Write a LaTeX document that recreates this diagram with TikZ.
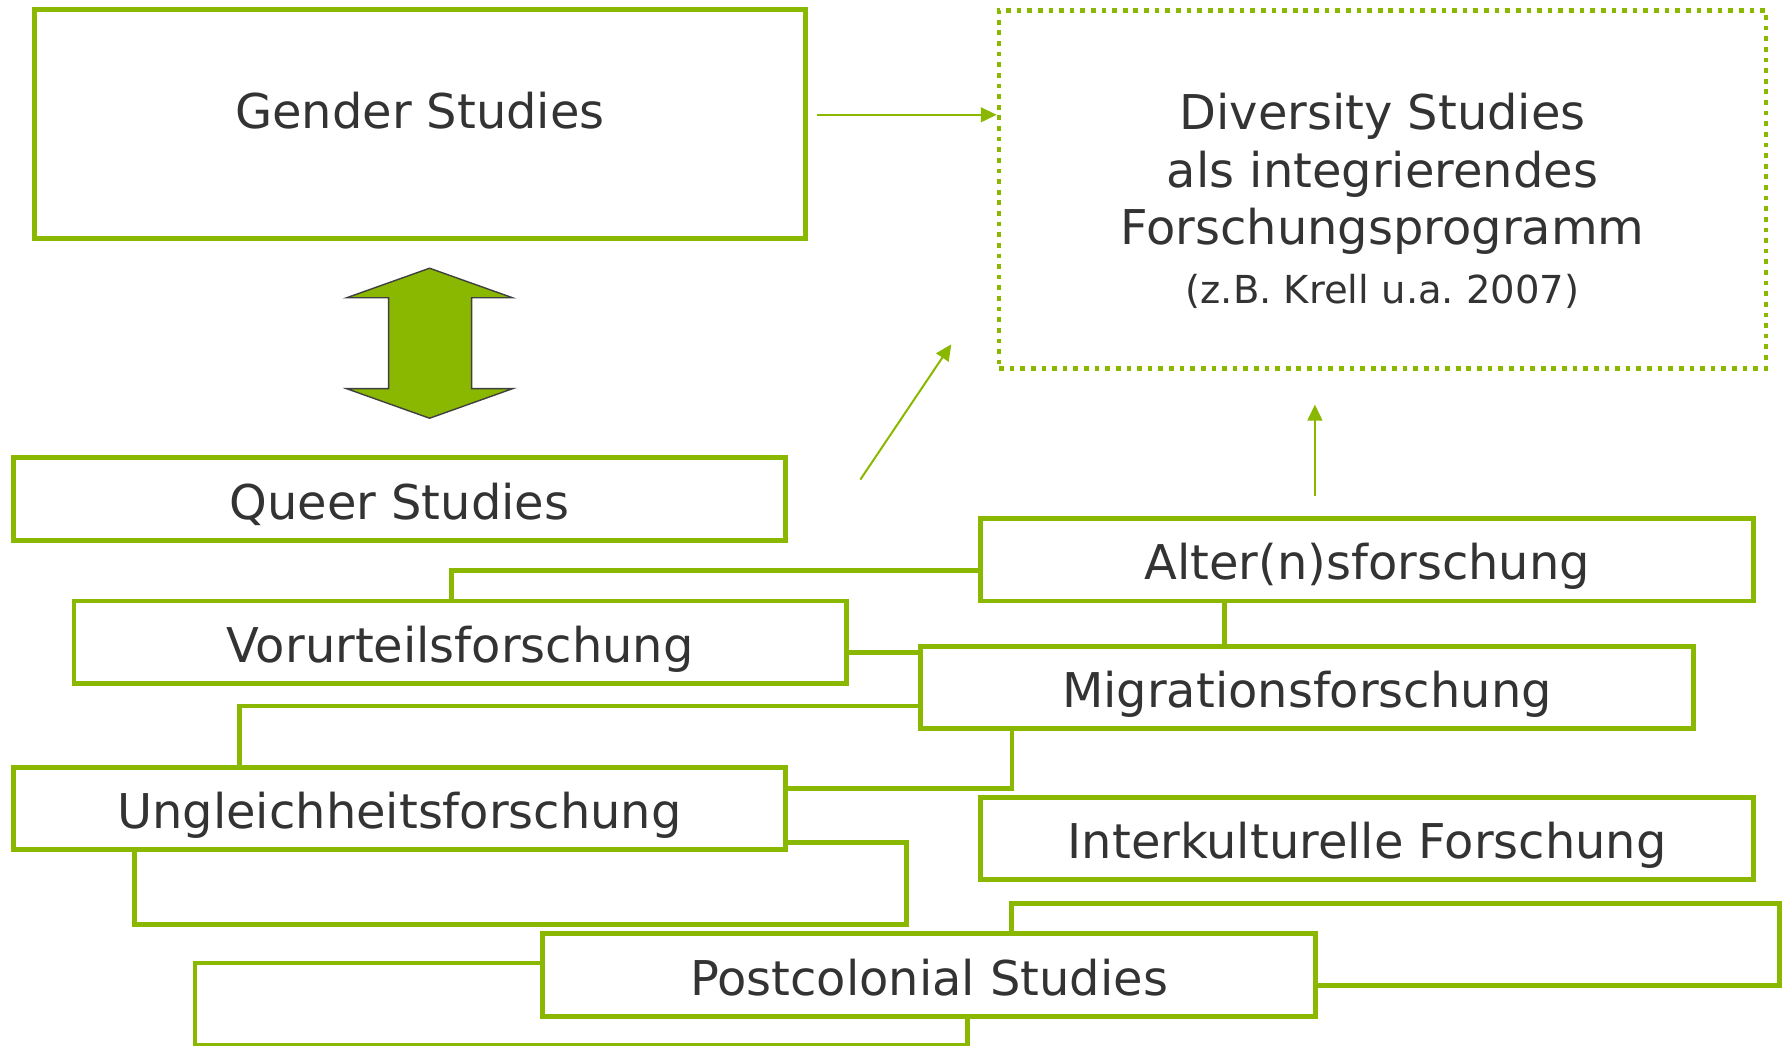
\documentclass[tikz,border=0pt]{standalone}
\usepackage{fontspec}
\setmainfont{DejaVu Sans}
\usetikzlibrary{arrows.meta}
\definecolor{leaf}{RGB}{138,184,0}
\definecolor{ink}{RGB}{51,51,51}
\frenchspacing

\begin{document}
\begin{tikzpicture}[x=0.02cm, y=-0.02cm]
\tikzstyle{box}=[rectangle, draw=leaf, line width=2.4pt, fill=white, text=ink, inner sep=0pt, minimum width=13.6cm, minimum height=1.45cm, text height=21.4pt, text depth=1.2pt, font=\fontsize{24}{29}\selectfont]
\tikzstyle{dotbox}=[rectangle, draw=leaf, line width=2.35pt, dash pattern=on 2.35pt off 2.97pt, minimum width=13.5cm, minimum height=6.3cm]
\tikzstyle{label}=[text=ink, align=center, font=\fontsize{24}{29}\selectfont]
\tikzstyle{connect}=[-{Triangle[length=2.8mm, width=2.6mm]}, draw=leaf, line width=1pt]
\tikzstyle{bigarrow}=[fill=leaf, draw=black!75, line width=0.7pt, line join=miter]
  \useasboundingbox (0,0) rectangle (1568,920);
  % top row
  \node[box, minimum width=13.58cm, minimum height=4.04cm] (gender) at (369.5,109) {};
  \node[label] (gendertext) at (369.5,97) {Gender Studies};
  \node[dotbox] (diversity) at (1216.5,166.5) {};
  \node[label] (divtext) at (1216.5,176.5) {Diversity Studies\\als integrierendes\\Forschungsprogramm\\[0.3pt]{\fontsize{19.3}{23}\selectfont (z.B. Krell u.a. 2007)}};
  \path[bigarrow] (378,236) -- (451,262) -- (415,262) -- (415,342) -- (451,342) -- (378,368)
        -- (305,342) -- (342,342) -- (342,262) -- (305,262) -- cycle;
  % empty boxes at the back
  \node[box] (back1) at (737.5,538) {};
  \node[box] (back2) at (550.5,657.5) {};
  \node[box] (back3) at (458,777.4) {};
  \node[box, minimum width=13.52cm] (back4) at (1228,831) {};
  \node[box] (back5) at (511.5,883.5) {};
  % labelled boxes
  \node[box] (queer) at (351.5,439) {Queer Studies};
  \node[box] (alter) at (1203,492.5) {Alter(n)sforschung};
  \node[box] (vorurteil) at (405,565) {Vorurteilsforschung};
  \node[box] (migration) at (1150,604.8) {Migrationsforschung};
  \node[box] (ungleich) at (351.5,711.4) {Ungleichheitsforschung};
  \node[box] (interkultur) at (1203,737.9) {Interkulturelle Forschung};
  \node[box] (postcolonial) at (817.5,857.9) {Postcolonial Studies};
  % arrows
  \coordinate (qfoot) at (757,422);
  \coordinate (qhead) at (837,303);
  \coordinate (afoot) at (1157,436);
  \coordinate (ahead) at (1157,356);
  \draw[connect] ([shift={(8,-8)}]gender.east) coordinate (gfoot) -- (gfoot -| diversity.west);
  \draw[connect] (qfoot) -- (qhead);
  \draw[connect] (afoot) -- (ahead);
\end{tikzpicture}
\end{document}
